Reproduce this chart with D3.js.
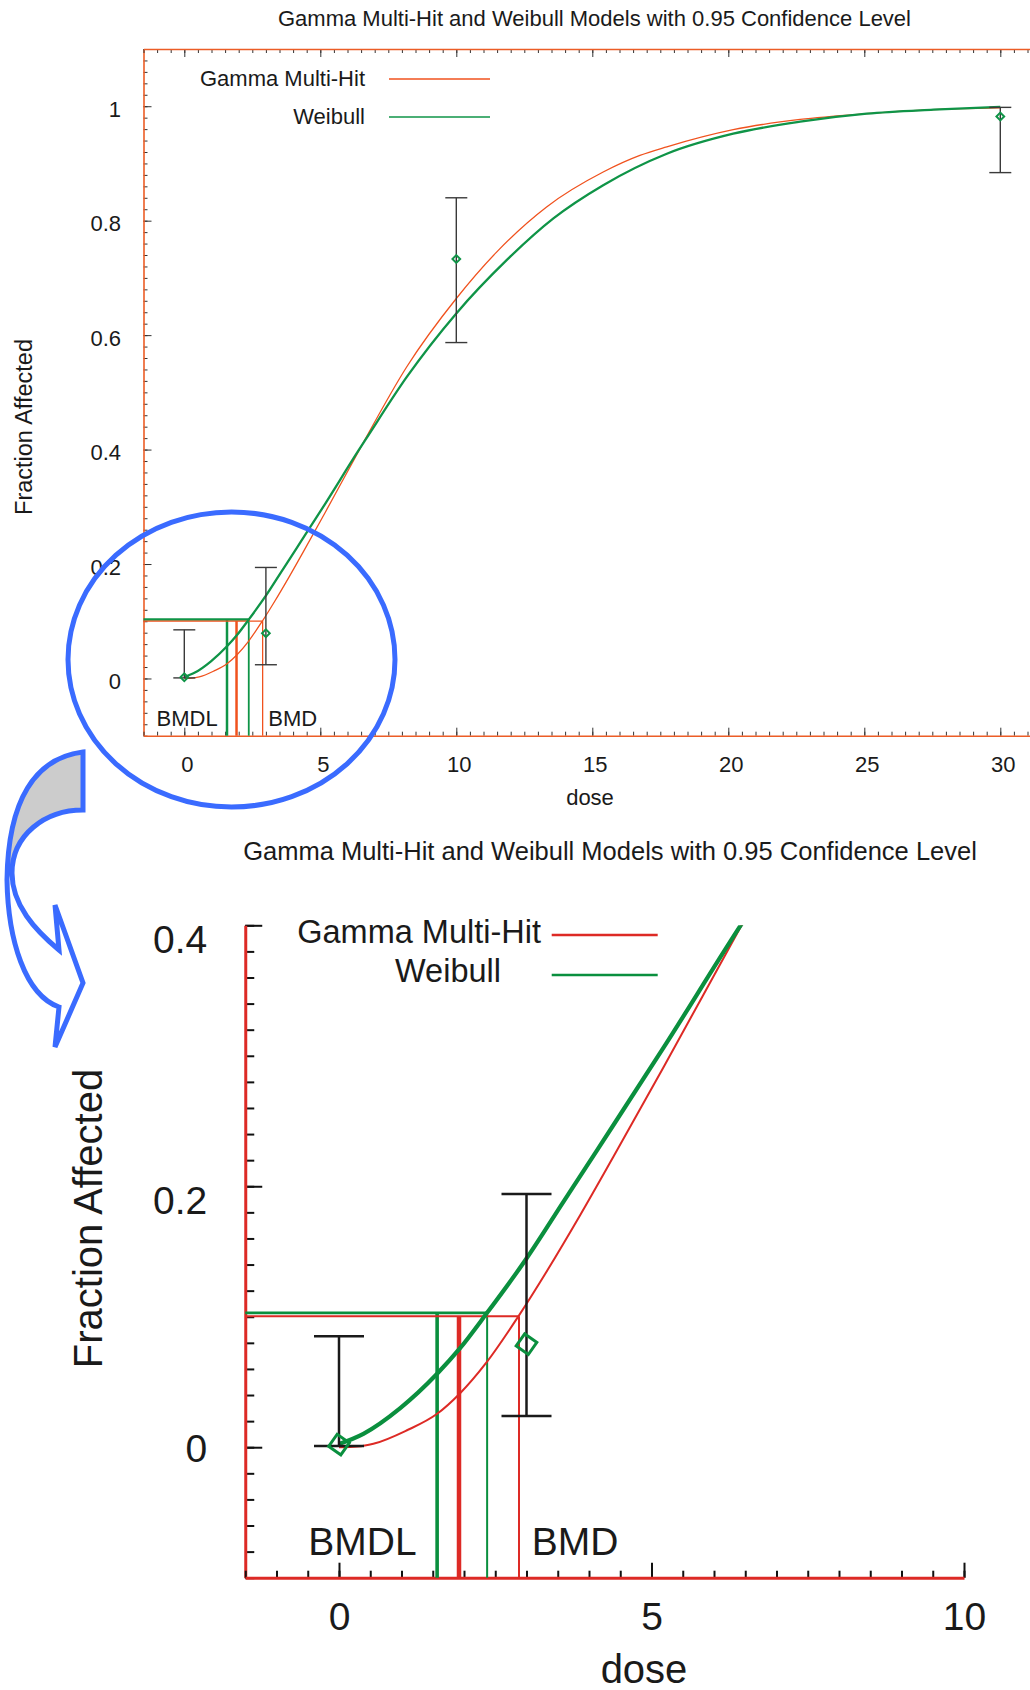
<!DOCTYPE html>
<html>
<head>
<meta charset="utf-8">
<script src="https://cdn.jsdelivr.net/npm/d3@7/dist/d3.min.js"></script>
<style>
    body { margin: 0; background: #ffffff; }
    svg text { font-family: "Liberation Sans", Arial, Helvetica, sans-serif; fill: #1a1a1a; }
</style>
</head>
<body>
<div class="bmd"></div>
<script>
////////////////////////////////// data

// observed dose groups with 95% confidence limits
var doses    = [0, 3, 10, 30];
var observed = [0.002, 0.079, 0.733, 0.982];
var lowerCI  = [0.001, 0.024, 0.587, 0.884];
var upperCI  = [0.085, 0.194, 0.840, 0.998];

// fitted curves
var gammaDose = [0, 0.3, 0.55, 1.08, 1.57, 1.93, 2.36, 2.87, 3.32, 3.86, 4.39, 5.19, 6.36, 6.58, 8.18, 10, 11.49, 13.32, 15.4, 16.75, 17.74, 20.18, 22.64, 25.09, 27.54, 30];
var gammaFit  = [0, 0.0005, 0.0026, 0.0128, 0.0256, 0.041, 0.065, 0.1003, 0.1345, 0.178, 0.2226, 0.291, 0.393, 0.412, 0.5447, 0.664, 0.7455, 0.824, 0.885, 0.914, 0.929, 0.959, 0.977, 0.987, 0.994, 0.997];
var weibullDose = [0, 0.39, 0.98, 1.57, 1.93, 2.36, 3.0, 3.59, 4.12, 5.19, 6.4, 6.7, 8.18, 10, 11.85, 13.57, 15.4, 17.74, 20.18, 22.64, 25.09, 27.54, 30];
var weibullFit  = [0.0025, 0.0103, 0.030, 0.0563, 0.0755, 0.1024, 0.1446, 0.188, 0.227, 0.306, 0.398, 0.420, 0.527, 0.638, 0.731, 0.804, 0.862, 0.917, 0.952, 0.973, 0.987, 0.994, 0.999];

// benchmark dose results, [gamma, weibull]
var modelNames = ["Gamma Multi-Hit", "Weibull"];
var bmrLevels  = [0.1003, 0.1030];
var bmdValues  = [2.88, 2.37];
var bmdlValues = [1.92, 1.57];
var bmdLabels  = ["BMDL", "BMD"];

// text and ticks
var titleText = "Gamma Multi-Hit and Weibull Models with 0.95 Confidence Level";
var xTitle = "dose";
var yTitle = "Fraction Affected";
var topXTicks  = [0, 5, 10, 15, 20, 25, 30];
var topYTicks  = [0, 0.2, 0.4, 0.6, 0.8, 1];
var zoomXTicks = [0, 5, 10];
var zoomYTicks = [0, 0.2, 0.4];

var bmdChart = (function() {

    var exports = {};

////////////////////////////////// global variables

    var width = 1030, height = 1690;
    var svg;

////////////////////////////////// helper functions

    //pairs two arrays into [x, y] points
    function zipPoints(xs, ys){
        return xs.map(function(d, i){ return [d, ys[i]]; });
    }

    //tick values from start to stop in step sized increments
    function tickRange(start, stop, step){
        var out = [];
        var n = Math.round((stop - start) / step);
        for (var i = 0; i <= n; i++){
            out.push(+(start + i * step).toFixed(4));
        }
        return out;
    }

/////////////////////////////////// one plot panel

    function Panel(p){
        var x = d3.scaleLinear().domain(p.xDomain).range(p.xRange);
        var y = d3.scaleLinear().domain(p.yDomain).range(p.yRange);
        var g = svg.append("g").attr("class", p.id);
        var clip = p.id + "-clip";

        g.append("clipPath").attr("id", clip).append("rect")
            .attr("x", p.xRange[0]).attr("y", p.yRange[1])
            .attr("width", p.xRange[1] - p.xRange[0])
            .attr("height", p.yRange[0] - p.yRange[1]);

        drawAxes();
        drawBmd();
        drawCurves();
        drawErrorBars();
        drawText();

        function makeAxis(side){
            if (side == "left") return d3.axisLeft(y);
            if (side == "top") return d3.axisTop(x);
            return d3.axisBottom(x);
        }

        function axisShift(side){
            if (side == "left") return "translate(" + p.xRange[0] + ",0)";
            if (side == "top") return "translate(0," + p.yRange[1] + ")";
            return "translate(0," + p.yRange[0] + ")";
        }

        function drawAxes(){
            var minor = {x: tickRange(p.xDomain[0], p.xDomain[1], 0.5), y: tickRange(p.yDomain[0], p.yDomain[1], 0.02)};
            var major = {x: p.xTicks, y: p.yTicks};

            p.sides.forEach(function(side){
                var dim = side == "left" ? "y" : "x";
                var len = p.tickLen[dim];

                // minor ticks
                var gm = g.append("g").attr("transform", axisShift(side))
                    .call(makeAxis(side).tickValues(minor[dim]).tickSize(-len[1]).tickSizeOuter(0).tickFormat(""));
                gm.select(".domain").remove();
                gm.selectAll(".tick line").attr("stroke", p.tickColor).attr("stroke-width", p.tickWidth);

                // major ticks with labels
                var ax = makeAxis(side).tickValues(major[dim]).tickSize(-len[0]).tickSizeOuter(0);
                if (side == "top") ax.tickFormat("");
                else ax.tickPadding(side == "left" ? p.yPad : p.xPad).tickFormat(d3.format("~g"));
                var ga = g.append("g").attr("transform", axisShift(side)).call(ax);
                ga.selectAll(".tick line").attr("stroke", p.tickColor).attr("stroke-width", p.tickWidth);
                ga.selectAll("text").attr("font-size", p.fs).attr("font-family", null).style("fill", "#1a1a1a");
                if (side == "left") ga.selectAll("text").attr("dy", p.yDy);
                if (side == "bottom") ga.selectAll("text").attr("dx", p.xDx);
                ga.select(".domain").attr("stroke", p.axisColor).attr("stroke-width", p.axisWidth).raise();
            });
        }

        function drawBmd(){
            var colors = [p.gammaColor, p.weibullColor];
            var y0 = p.yRange[0];
            var left = p.xRange[0];
            [1, 0].forEach(function(i){
                g.append("line")
                    .attr("x1", left).attr("x2", x(bmdValues[i]))
                    .attr("y1", y(bmrLevels[i])).attr("y2", y(bmrLevels[i]))
                    .attr("stroke", colors[i]).attr("stroke-width", p.bmrWidth[i]);
                g.append("line")
                    .attr("x1", x(bmdValues[i])).attr("x2", x(bmdValues[i]))
                    .attr("y1", y(bmrLevels[i])).attr("y2", y0)
                    .attr("stroke", colors[i]).attr("stroke-width", p.bmdWidth[i]);
                g.append("line")
                    .attr("x1", x(bmdlValues[i])).attr("x2", x(bmdlValues[i]))
                    .attr("y1", y(bmrLevels[i])).attr("y2", y0)
                    .attr("stroke", colors[i]).attr("stroke-width", p.bmdlWidth[i]);
            });
        }

        function drawCurves(){
            var line = d3.line()
                .x(function(d){ return x(d[0]); })
                .y(function(d){ return y(d[1]); })
                .curve(d3.curveMonotoneX);

            g.append("path").datum(zipPoints(gammaDose, gammaFit))
                .attr("clip-path", "url(#" + clip + ")")
                .attr("d", line).attr("fill", "none")
                .attr("stroke", p.gammaColor).attr("stroke-width", p.curveWidth[0]);

            g.append("path").datum(zipPoints(weibullDose, weibullFit))
                .attr("clip-path", "url(#" + clip + ")")
                .attr("d", line).attr("fill", "none")
                .attr("stroke", p.weibullColor).attr("stroke-width", p.curveWidth[1])
                .attr("stroke-linejoin", "round");
        }

        function drawErrorBars(){
            // only the groups that fall inside this panel
            var pts = doses.map(function(d, i){
                return {dose: d, obs: observed[i], lo: lowerCI[i], hi: upperCI[i]};
            }).filter(function(d){ return d.dose < p.xDomain[1] && d.obs < p.yDomain[1]; });

            var bars = g.selectAll(".ebar").data(pts).enter().append("g").attr("class", "ebar")
                .attr("stroke", p.barColor).attr("stroke-width", p.barWidth);
            bars.append("line")
                .attr("x1", function(d){ return x(d.dose); }).attr("x2", function(d){ return x(d.dose); })
                .attr("y1", function(d){ return y(d.lo); }).attr("y2", function(d){ return y(d.hi); });
            ["lo", "hi"].forEach(function(k){
                bars.append("line")
                    .attr("x1", function(d){ return x(d.dose) - p.cap; })
                    .attr("x2", function(d){ return x(d.dose) + p.cap; })
                    .attr("y1", function(d){ return y(d[k]); }).attr("y2", function(d){ return y(d[k]); });
            });

            g.selectAll(".marker").data(pts).enter().append("path").attr("class", "marker")
                .attr("d", d3.symbol().type(d3.symbolSquare).size(p.markerSize))
                .attr("transform", function(d){ return "translate(" + x(d.dose) + "," + y(d.obs) + ") rotate(" + p.markerAngle + ")"; })
                .attr("fill", "none").attr("stroke", p.weibullColor).attr("stroke-width", p.markerWidth);
        }

        function drawText(){
            g.append("text").attr("x", p.title[0]).attr("y", p.title[1])
                .attr("text-anchor", "middle").attr("font-size", p.titleFs).text(titleText);

            // legend
            var colors = [p.gammaColor, p.weibullColor];
            modelNames.forEach(function(name, i){
                var row = p.legend[i];
                g.append("text").attr("x", row.tx).attr("y", row.ty)
                    .attr("text-anchor", "end").attr("font-size", p.legendFs).text(name);
                g.append("line").attr("x1", p.legendLine[0]).attr("x2", p.legendLine[1])
                    .attr("y1", row.ly).attr("y2", row.ly)
                    .attr("stroke", colors[i]).attr("stroke-width", p.legendWidth);
            });

            bmdLabels.forEach(function(lab, i){
                g.append("text").attr("x", p.bmdText[i][0]).attr("y", p.bmdText[i][1])
                    .attr("font-size", p.fs).text(lab);
            });

            g.append("text").attr("x", p.xLabel[0]).attr("y", p.xLabel[1])
                .attr("text-anchor", "middle").attr("font-size", p.labelFs).text(xTitle);
            g.append("text")
                .attr("transform", "translate(" + p.yLabel[0] + "," + p.yLabel[1] + ") rotate(-90)")
                .attr("text-anchor", "middle").attr("font-size", p.yLabelFs).text(yTitle);
        }

        return {x: x, y: y};
    }

/////////////////////////////////// callout: ellipse and curved arrow

    function drawCallout(){
        var blue = "#3a6bff";
        svg.append("path")
            .attr("d", "M83,752 C35,758 8,800 7,880 L12,873 C12,835 45,810 83,810 Z")
            .attr("fill", "#cccccc");
        svg.append("path")
            .attr("d", "M83,752 C35,758 8,800 7,880 C8,940 25,995 59,1007 L55,1047 L83,983 L55,905 L59,950 C35,930 12,905 12,873 C12,835 45,810 83,810 Z")
            .attr("fill", "none").attr("stroke", blue).attr("stroke-width", 5).attr("stroke-linejoin", "miter");
        svg.append("ellipse")
            .attr("cx", 231.5).attr("cy", 659.5).attr("rx", 163.5).attr("ry", 147.5)
            .attr("fill", "none").attr("stroke", blue).attr("stroke-width", 5);
    }

    //setup main structure
    function setup(div){
        svg = d3.select(div).append("svg").attr("width", width).attr("height", height)
            .style("display", "block").style("background", "#ffffff");

        Panel({
            id: "full", sides: ["left", "top", "bottom"],
            xDomain: [-1.5, 31.5], xRange: [143.5, 1041.1],
            yDomain: [-0.1, 1.1], yRange: [735.7, 49],
            xTicks: topXTicks, yTicks: topYTicks,
            tickLen: {x: [8, 4], y: [8, 4]}, tickColor: "#333333", tickWidth: 1,
            axisColor: "#ec5d26", axisWidth: 1.6,
            fs: 22, titleFs: 22, legendFs: 22, labelFs: 22, yLabelFs: 23.5,
            yPad: 22.5, xPad: 20.7, yDy: "0.46em", xDx: 2.5,
            gammaColor: "#f0521e", weibullColor: "#0f9447",
            curveWidth: [1.3, 2.3], bmrWidth: [1.3, 2.5], bmdWidth: [1.3, 1.8], bmdlWidth: [2.5, 2.5],
            barColor: "#3a3a3a", barWidth: 1.4, cap: 11,
            markerSize: 30, markerAngle: 45, markerWidth: 2,
            title: [594.5, 26],
            legend: [{tx: 365, ty: 86, ly: 79}, {tx: 365, ty: 124, ly: 117}],
            legendLine: [389, 490], legendWidth: 1.5,
            bmdText: [[156.5, 726], [268.3, 726]],
            xLabel: [590, 805], yLabel: [31.7, 427]
        });

        Panel({
            id: "zoom", sides: ["left", "bottom"],
            xDomain: [-1.5, 10], xRange: [245.25, 964],
            yDomain: [-0.1, 0.4], yRange: [1577.7, 925.3],
            xTicks: zoomXTicks, yTicks: zoomYTicks,
            tickLen: {x: [15, 7], y: [17, 9]}, tickColor: "#111111", tickWidth: 2,
            axisColor: "#dd2a25", axisWidth: 3,
            fs: 39, titleFs: 25.5, legendFs: 32.5, labelFs: 40, yLabelFs: 40,
            yPad: 38, xPad: 24.6, yDy: function(d){ return d == 0 ? "0.36em" : "0.69em"; }, xDx: 0,
            gammaColor: "#dd2a25", weibullColor: "#0a8f3e",
            curveWidth: [2, 4.2], bmrWidth: [2, 2.6], bmdWidth: [2, 2], bmdlWidth: [4.5, 3.6],
            barColor: "#1a1a1a", barWidth: 2.5, cap: 25,
            markerSize: 220, markerAngle: 35, markerWidth: 3,
            title: [610, 860],
            legend: [{tx: 541, ty: 943, ly: 935}, {tx: 501, ty: 981.7, ly: 975}],
            legendLine: [551.7, 657.7], legendWidth: 2.5,
            bmdText: [[308.3, 1555], [531.7, 1555]],
            xLabel: [644, 1683], yLabel: [101.7, 1218.5]
        });

        drawCallout();
    }

    exports.setup = setup;
    exports.panel = Panel;

    return exports;
}());

bmdChart.setup(".bmd");
</script>
</body>
</html>
